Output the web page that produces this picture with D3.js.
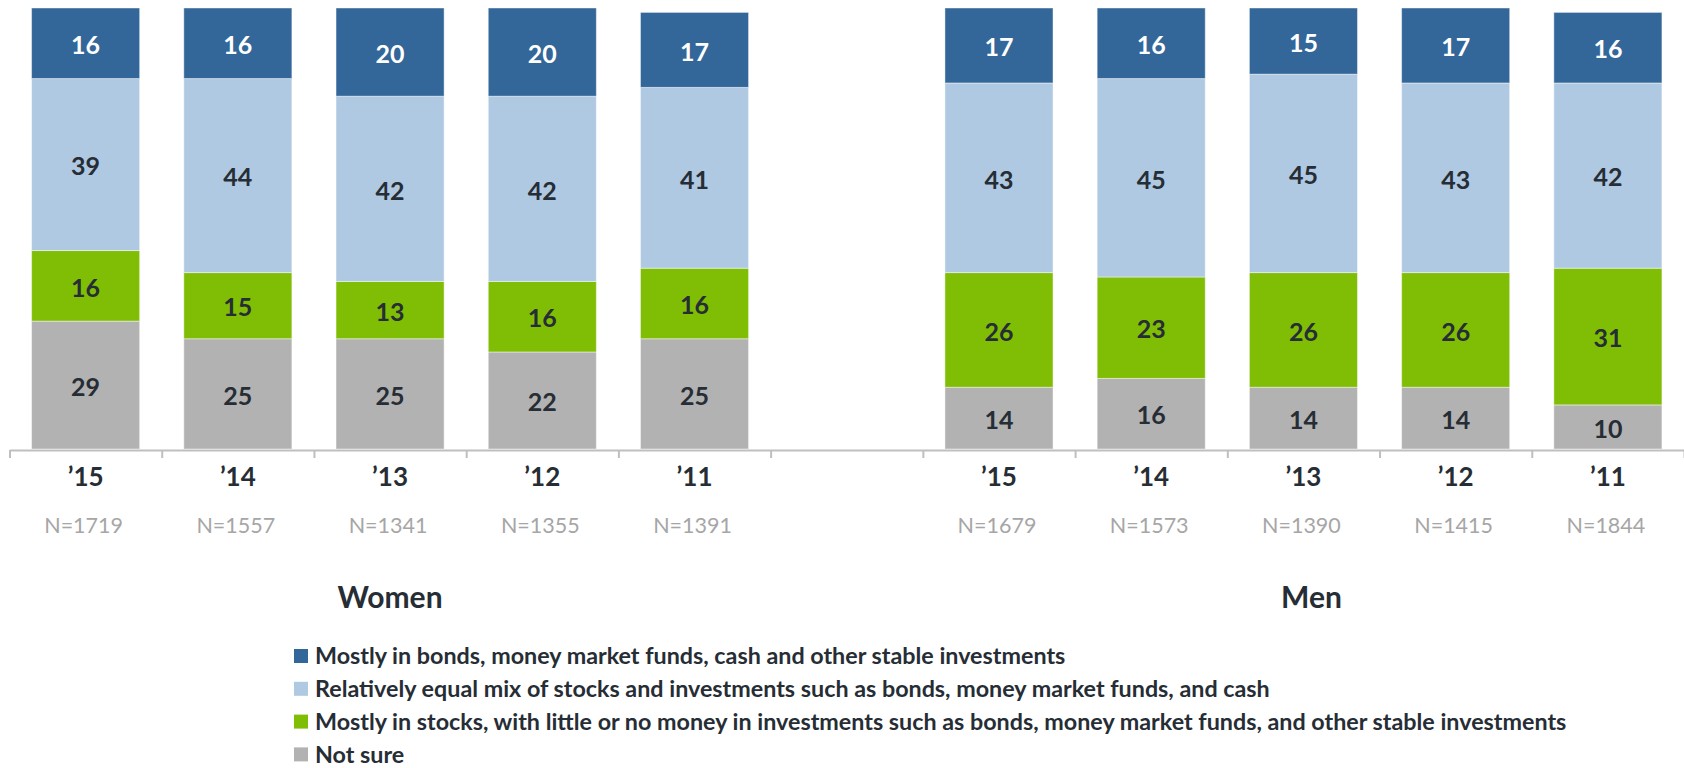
<!DOCTYPE html>
<html>
<head>
<meta charset="utf-8">
<script src="https://cdn.jsdelivr.net/npm/d3@7"></script>
<style>
  body { margin: 0; background: #fff; }
  svg { display: block; font-family: Lato, "Open Sans", sans-serif; }
</style>
</head>
<body>
<svg id="chart" width="1684" height="768"></svg>
<script>
// categories
const groups = ["Women", "Men"];
const years = ["\u201915", "\u201914", "\u201913", "\u201912", "\u201911"];
const womenN = ["N=1719", "N=1557", "N=1341", "N=1355", "N=1391"];
const menN = ["N=1679", "N=1573", "N=1390", "N=1415", "N=1844"];

// series values (women first, then men)
const mostlyBonds = [16, 16, 20, 20, 17, 17, 16, 15, 17, 16];
const equalMix = [39, 44, 42, 42, 41, 43, 45, 45, 43, 42];
const mostlyStocks = [16, 15, 13, 16, 16, 26, 23, 26, 26, 31];
const notSure = [29, 25, 25, 22, 25, 14, 16, 14, 14, 10];

const seriesNames = [
  "Mostly in bonds, money market funds, cash and other stable investments",
  "Relatively equal mix of stocks and investments such as bonds, money market funds, and cash",
  "Mostly in stocks, with little or no money in investments such as bonds, money market funds, and other stable investments",
  "Not sure"
];

const colors = ["#336699", "#AFC9E3", "#80BE06", "#B2B2B2"];
const textDark = "#262D35";

const width = 1684, height = 768;
const svg = d3.select("#chart");

// bar slots: 5 women, one empty gap, 5 men
const slots = [...years.map(y => "W" + y), "gap", ...years.map(y => "M" + y)];
const barSlots = slots.filter(s => s !== "gap");
const nLabels = [...womenN, ...menN];

const rows = barSlots.map((key, i) => ({
  key,
  year: years[i % 5],
  n: nLabels[i],
  bonds: mostlyBonds[i],
  mix: equalMix[i],
  stocks: mostlyStocks[i],
  notsure: notSure[i]
}));

const x = d3.scaleBand()
  .domain(slots)
  .range([9.5, width])
  .paddingInner(0.29)
  .paddingOuter(0.145);

const y = d3.scaleLinear().domain([0, 100]).range([449, 8]);

const keys = ["notsure", "stocks", "mix", "bonds"];
const keyColor = { bonds: colors[0], mix: colors[1], stocks: colors[2], notsure: colors[3] };

const stacked = d3.stack().keys(keys)(rows);

const layer = svg.append("g").selectAll("g")
  .data(stacked)
  .join("g")
  .attr("fill", d => keyColor[d.key]);

layer.selectAll("rect")
  .data(d => d)
  .join("rect")
  .attr("x", d => x(d.data.key))
  .attr("width", x.bandwidth())
  .attr("y", d => y(d[1]))
  .attr("height", d => y(d[0]) - y(d[1]))
  .attr("stroke", "#fff")
  .attr("stroke-opacity", 0.45)
  .attr("stroke-width", 1);

layer.selectAll("text")
  .data(d => d.map(v => Object.assign({ k: d.key }, v)))
  .join("text")
  .attr("x", d => x(d.data.key) + x.bandwidth() / 2)
  .attr("y", d => (y(d[0]) + y(d[1])) / 2 + 2)
  .attr("dy", "0.35em")
  .attr("text-anchor", "middle")
  .attr("font-size", 25)
  .attr("font-weight", 700)
  .attr("fill", d => d.k === "bonds" ? "#fff" : textDark)
  .text(d => d[1] - d[0]);

// axis with ticks at slot boundaries
const step = x.step();
const edge = d3.scaleLinear().domain([0, slots.length]).range([9.5, 9.5 + step * slots.length]);
const axis = svg.append("g")
  .attr("transform", "translate(0,450)")
  .call(d3.axisBottom(edge)
    .tickValues(d3.range(0, slots.length + 1))
    .tickSize(8)
    .tickSizeOuter(0)
    .tickFormat(""));
axis.select(".domain").attr("stroke", "#BFBFBF").attr("stroke-width", 2);
axis.selectAll(".tick line").attr("stroke", "#BFBFBF").attr("stroke-width", 2);

// year and N labels
const cats = svg.append("g").selectAll("g")
  .data(rows)
  .join("g")
  .attr("transform", d => `translate(${x(d.key) + x.bandwidth() / 2},0)`);

cats.append("text")
  .attr("y", 486)
  .attr("text-anchor", "middle")
  .attr("font-size", 26)
  .attr("font-weight", 700)
  .attr("fill", textDark)
  .text(d => d.year);

cats.append("text")
  .attr("x", -2)
  .attr("y", 533)
  .attr("text-anchor", "middle")
  .attr("font-size", 21.5)
  .attr("fill", "#A6A6A6")
  .text(d => d.n);

// group titles
const groupCenters = [
  (x("W" + years[0]) + x("W" + years[4]) + x.bandwidth()) / 2,
  (x("M" + years[0]) + x("M" + years[4]) + x.bandwidth()) / 2 + 8
];
svg.append("g").selectAll("text")
  .data(groups)
  .join("text")
  .attr("x", (d, i) => groupCenters[i])
  .attr("y", 608)
  .attr("text-anchor", "middle")
  .attr("font-size", 30)
  .attr("font-weight", 700)
  .attr("fill", textDark)
  .text(d => d);

// legend
const legend = svg.append("g").selectAll("g")
  .data(seriesNames)
  .join("g")
  .attr("transform", (d, i) => `translate(294,${656 + i * 32.8})`);

legend.append("rect")
  .attr("y", -7)
  .attr("width", 14)
  .attr("height", 14)
  .attr("fill", (d, i) => colors[i]);

legend.append("text")
  .attr("x", 21)
  .attr("dy", "0.35em")
  .attr("font-size", 23.3)
  .attr("font-weight", 700)
  .attr("fill", textDark)
  .text(d => d);
</script>
</body>
</html>
